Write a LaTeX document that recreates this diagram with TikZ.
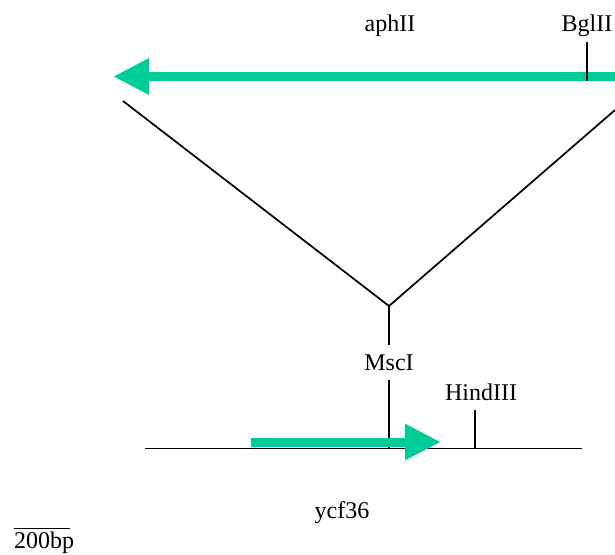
\documentclass[tikz,border=0pt]{standalone}
\usepackage{fontspec}
\setmainfont{Liberation Serif}
\usetikzlibrary{arrows.meta}
\definecolor{gene}{RGB}{0,204,153}
\begin{document}
\begin{tikzpicture}[x=1pt,y=-1pt,
  lbl/.style={anchor=base,inner sep=0pt,font=\fontsize{24}{28}\selectfont},
  thin line/.style={line width=1.7pt,black},
  genearrow/.style={line width=9pt,draw=gene,-{Triangle[length=36pt,width=34pt,fill=gene]}}]
\useasboundingbox (0,0) rectangle (615,554);
% coordinates
\coordinate (aR) at (615,76.5);
\coordinate (aL) at (113,76.5);
\coordinate (bgTop) at (587,42);
\coordinate (bgBot) at (587,81);
\coordinate (vl) at (123,101);
\coordinate (vr) at (615,110);
\coordinate (vj) at (389,306);
\coordinate (m1) at (389,345);
\coordinate (m2) at (389,380);
\coordinate (m3) at (389,448.5);
\coordinate (h1) at (475,410);
\coordinate (h2) at (475,448.5);
\coordinate (baseL) at (145,448.5);
\coordinate (baseR) at (582,448.5);
\coordinate (gL) at (251,442);
\coordinate (gR) at (441,442);
\coordinate (sbL) at (14,528.3);
\coordinate (sbR) at (70,528.3);
% labels
\node[lbl] (aph) at (390,31.5) {aphII};
\node[lbl] (bgl) at (587,31.5) {BglII};
\node[lbl] (msc) at (389,370.5) {MscI};
\node[lbl] (hind) at (481,400.5) {HindIII};
\node[lbl] (ycf) at (342,518) {ycf36};
\node[lbl,anchor=base west] (scale) at (14,548.5) {200bp};
% top insert arrow
\draw[genearrow] (aR) -- (aL);
\draw[thin line] (bgTop) -- (bgBot);
% V lines
\draw[thin line] (vl) -- (vj) -- (vr);
\draw[thin line] (vj) -- (m1);
% baseline
\draw[thin line] (baseL) -- (baseR);
\draw[thin line] (m2) -- (m3);
\draw[thin line] (h1) -- (h2);
% ycf36 arrow
\draw[genearrow] (gL) -- (gR);
% scale bar
\draw[line width=1.5pt] (sbL) -- (sbR);
\end{tikzpicture}
\end{document}
